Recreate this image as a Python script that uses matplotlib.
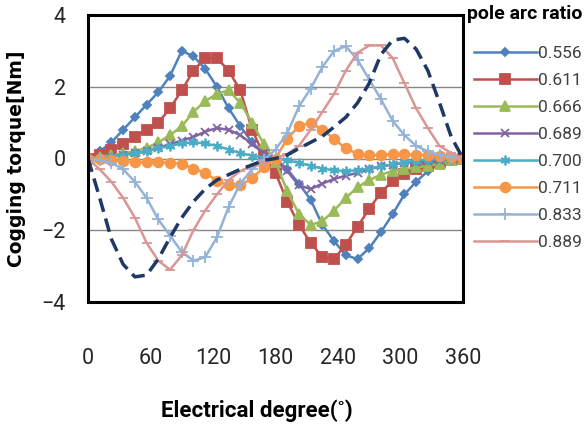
import matplotlib
matplotlib.use('Agg')
import matplotlib.pyplot as plt

# electrical angle (deg)
graus = [0, 11.25, 22.5, 33.75, 45, 56.25, 67.5, 78.75, 90, 101.25, 112.5, 123.75,
         135, 146.25, 157.5, 168.75, 180, 191.25, 202.5, 213.75, 225, 236.25, 247.5,
         258.75, 270, 281.25, 292.5, 303.75, 315, 326.25, 337.5, 348.75, 360]

# cogging torque [Nm] por razao de arco polar
t_0556 = [0, 0.2, 0.45, 0.8, 1.15, 1.5, 1.85, 2.3, 3.0, 2.85, 2.5, 2.0,
          1.4, 0.9, 0.45, 0.15, 0.0, -0.3, -0.7, -1.15, -1.85, -2.3, -2.7,
          -2.8, -2.5, -2.05, -1.55, -1.0, -0.65, -0.35, -0.15, -0.05, 0]
t_0611 = [0, 0.1, 0.25, 0.4, 0.6, 0.8, 1.0, 1.4, 1.9, 2.45, 2.8, 2.8,
          2.45, 1.9, 0.8, 0.1, -0.4, -1.2, -1.85, -2.35, -2.75, -2.8, -2.4,
          -1.9, -1.4, -0.95, -0.62, -0.42, -0.3, -0.2, -0.1, -0.05, 0]
t_0666 = [0, 0.05, 0.1, 0.15, 0.2, 0.3, 0.45, 0.65, 0.9, 1.3, 1.6, 1.8,
          1.9, 1.55, 1.0, 0.4, -0.1, -0.9, -1.55, -1.85, -1.75, -1.45, -1.1,
          -0.8, -0.6, -0.45, -0.35, -0.3, -0.25, -0.2, -0.15, -0.05, 0]
t_0689 = [0, 0.02, 0.05, 0.1, 0.15, 0.2, 0.3, 0.4, 0.5, 0.6, 0.75, 0.85,
          0.8, 0.65, 0.4, 0.15, 0.0, -0.35, -0.75, -0.85, -0.7, -0.57, -0.48,
          -0.4, -0.3, -0.22, -0.17, -0.12, -0.1, -0.07, -0.05, -0.02, 0]
t_0700 = [0, 0.02, 0.05, 0.1, 0.15, 0.2, 0.28, 0.35, 0.42, 0.45, 0.42, 0.35,
          0.25, 0.15, 0.08, 0.02, 0.0, -0.05, -0.12, -0.2, -0.28, -0.33, -0.35,
          -0.33, -0.28, -0.22, -0.16, -0.1, -0.06, -0.03, -0.02, -0.01, 0]
t_0711 = [0, -0.02, -0.05, -0.08, -0.1, -0.1, -0.1, -0.12, -0.15, -0.28, -0.4, -0.62,
          -0.75, -0.75, -0.55, -0.25, 0.0, 0.55, 0.9, 1.0, 0.8, 0.55, 0.28,
          0.13, 0.1, 0.1, 0.12, 0.12, 0.1, 0.1, 0.08, 0.05, 0]
t_0833 = [0, -0.05, -0.12, -0.3, -0.65, -1.1, -1.7, -2.15, -2.6, -2.85, -2.75, -2.2,
          -1.35, -0.7, -0.3, -0.05, 0.25, 0.7, 1.45, 1.95, 2.55, 3.0, 3.13,
          2.75, 2.2, 1.65, 1.05, 0.65, 0.35, 0.2, 0.1, 0.05, 0]
t_0889 = [0, -0.3, -0.65, -1.1, -1.65, -2.35, -2.85, -3.1, -2.7, -2.0, -1.45, -1.0,
          -0.6, -0.35, -0.2, -0.1, 0.0, 0.12, 0.35, 0.8, 1.3, 1.8, 2.45,
          2.95, 3.15, 3.15, 2.8, 2.1, 1.4, 0.85, 0.35, 0.15, 0]
t_extra = [0, -1.1, -2.25, -2.95, -3.3, -3.25, -2.8, -2.2, -1.65, -1.2, -0.85, -0.6,
           -0.45, -0.3, -0.18, -0.05, 0.0, 0.1, 0.28, 0.45, 0.62, 0.88, 1.15,
           1.55, 2.1, 2.9, 3.3, 3.35, 3.05, 2.45, 1.55, 0.6, 0]

rotulos = ['0.556', '0.611', '0.666', '0.689', '0.700', '0.711', '0.833', '0.889']
series = [t_0556, t_0611, t_0666, t_0689, t_0700, t_0711, t_0833, t_0889]
cores = ['#4F81BD', '#C0504D', '#9BBB59', '#8064A2', '#4BACC6', '#F79646', '#95B3D7', '#D99694']
marcadores = ['D', 's', '^', 'x', (6, 2, 0), 'o', '+', '_']
tamanhos = [4.5, 7, 7, 5.5, 7, 7, 8, 7]

fonte = 'Roboto'

fig = plt.figure(figsize=(5.88, 4.28), dpi=100)
ax = fig.add_axes([88/588, 1 - 302/428, 375/588, 287/428])

for y, lab, c, m, ms in zip(series, rotulos, cores, marcadores, tamanhos):
    ax.plot(graus, y, color=c, marker=m, markersize=ms, linewidth=1.8,
            markeredgewidth=1.3, label=lab)
ax.plot(graus, t_extra, color='#1F3864', linestyle=(0, (4, 2)), linewidth=2.5,
        label='_nolegend_')

ax.set_xlim(0, 360)
ax.set_ylim(-4, 4)
ax.set_xticks([0, 60, 120, 180, 240, 300, 360])
ax.set_yticks([-4, -2, 0, 2, 4])
ax.yaxis.grid(True, color='#868686', linewidth=1)
ax.set_axisbelow(True)
for s in ax.spines.values():
    s.set_linewidth(2.2)
    s.set_color('black')
ax.tick_params(axis='both', length=0)
ax.tick_params(axis='x', pad=33)
ax.tick_params(axis='y', pad=16)
for t in ax.get_xticklabels() + ax.get_yticklabels():
    t.set_family(fonte)
    t.set_fontsize(15.5)
    t.set_color('#262626')

ax.set_xlabel('Electrical degree(˚)', family=fonte, fontsize=16, fontweight='bold')
ax.xaxis.set_label_coords(0.45, -0.34)
ax.set_ylabel('Cogging torque[Nm]', family='DejaVu Sans', fontsize=13.5, fontweight='bold')
ax.yaxis.set_label_coords(-0.165, 0.5)

fig.text(467/588, 1 - 14/428, 'pole arc ratio', family=fonte, fontsize=14,
         fontweight='bold', va='center', ha='left')
leg = ax.legend(loc='upper left', bbox_to_anchor=(474/588, 1 - 46/428), bbox_transform=fig.transFigure,
                frameon=False, prop={'family': fonte, 'size': 12.5}, handlelength=3.6,
                handletextpad=0.1, labelspacing=0.68, borderaxespad=0, borderpad=0)
for t in leg.get_texts():
    t.set_color('#404040')

fig.savefig('out.png', dpi=100)
